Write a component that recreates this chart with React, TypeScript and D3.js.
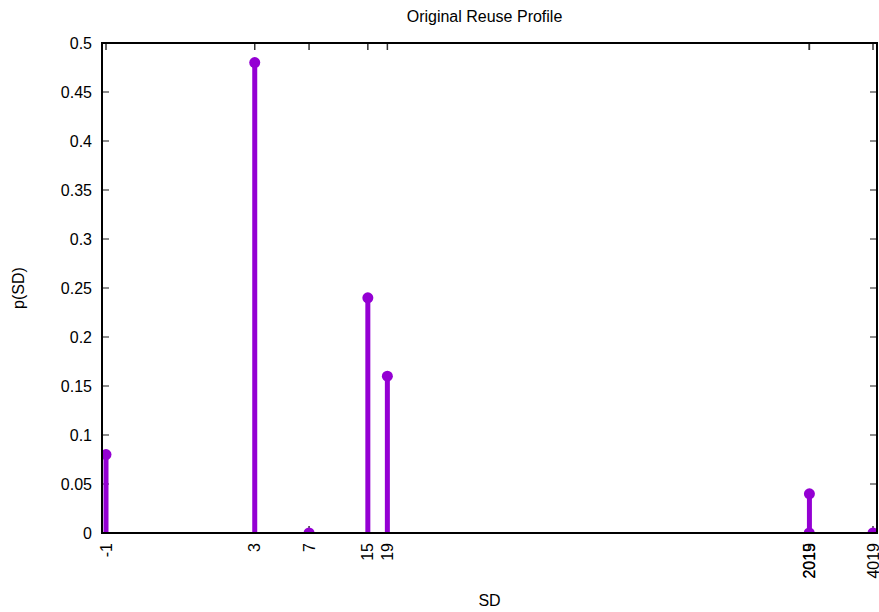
import React from "react";
import * as d3 from "d3";

const sdValues = [-1, 3, 7, 15, 19, 2015, 2019, 4019];
const probValues = [0.08, 0.48, 0.0, 0.24, 0.16, 0.0, 0.04, 0.0];
const xTickValues = [-1, 3, 7, 15, 19, 2015, 2019, 4019];
const yTickValues = [0, 0.05, 0.1, 0.15, 0.2, 0.25, 0.3, 0.35, 0.4, 0.45, 0.5];

const W = 879;
const H = 612;
const M = { left: 102, right: 877, top: 43, bottom: 533 };
const FONT = "'Liberation Sans', Arial, Helvetica, sans-serif";
const COLOR = "#9400d3";

export default function App() {
  const t = (v: number) => Math.log(v + 2);
  const pxPerUnit = (873 - 106) / (t(4019) - t(-1));
  const dMin = t(-1) - (106 - M.left) / pxPerUnit;
  const dMax = t(4019) + (M.right - 873) / pxPerUnit;
  const xs = d3.scaleLinear().domain([dMin, dMax]).range([M.left, M.right]);
  const x = (v: number) => xs(t(v));
  const y = d3.scaleLinear().domain([0, 0.5]).range([M.bottom, M.top]);
  const fmt = (v: number) => String(+v.toFixed(2));

  return (
    <svg width={W} height={H} style={{ position: "absolute", left: 0, top: 0, background: "#fff" }}>
      <defs>
        <clipPath id="plotclip">
          <rect x={M.left} y={M.top} width={M.right - M.left} height={M.bottom - M.top} />
        </clipPath>
      </defs>
      <text x={(M.left + M.right) / 2 - 5} y={22} textAnchor="middle" fontFamily={FONT} fontSize={16} fill="#000">
        Original Reuse Profile
      </text>
      {yTickValues.map((v) => (
        <g key={"y" + v}>
          <line x1={M.left} x2={M.left + 7} y1={y(v)} y2={y(v)} stroke="#666" strokeWidth={1.5} />
          <line x1={M.right} x2={M.right - 7} y1={y(v)} y2={y(v)} stroke="#666" strokeWidth={1.5} />
          <text x={M.left - 10} y={y(v)} dy="0.35em" textAnchor="end" fontFamily={FONT} fontSize={16} fill="#000">
            {fmt(v)}
          </text>
        </g>
      ))}
      {xTickValues.map((v) => (
        <g key={"x" + v}>
          <line x1={x(v)} x2={x(v)} y1={M.bottom} y2={M.bottom - 7} stroke="#333" strokeWidth={1.5} />
          <line x1={x(v)} x2={x(v)} y1={M.top} y2={M.top + 7} stroke="#333" strokeWidth={1.5} />
          <text
            transform={`translate(${x(v)},${M.bottom + 10}) rotate(-90)`}
            dy="0.35em"
            textAnchor="end"
            fontFamily={FONT}
            fontSize={16}
            fill="#000"
          >
            {v}
          </text>
        </g>
      ))}
      <g clipPath="url(#plotclip)">
        {sdValues.map((s, i) => (
          <g key={"p" + i}>
            <line x1={x(s)} x2={x(s)} y1={y(0)} y2={y(probValues[i])} stroke={COLOR} strokeWidth={5} />
            <circle cx={x(s)} cy={y(probValues[i])} r={5.5} fill={COLOR} />
          </g>
        ))}
      </g>
      <rect x={M.left} y={M.top} width={M.right - M.left} height={M.bottom - M.top} fill="none" stroke="#000" strokeWidth={2} />
      <text transform={`translate(24,${(M.top + M.bottom) / 2}) rotate(-90)`} textAnchor="middle" fontFamily={FONT} fontSize={16} fill="#000">
        p(SD)
      </text>
      <text x={(M.left + M.right) / 2} y={606} textAnchor="middle" fontFamily={FONT} fontSize={16} fill="#000">
        SD
      </text>
    </svg>
  );
}
